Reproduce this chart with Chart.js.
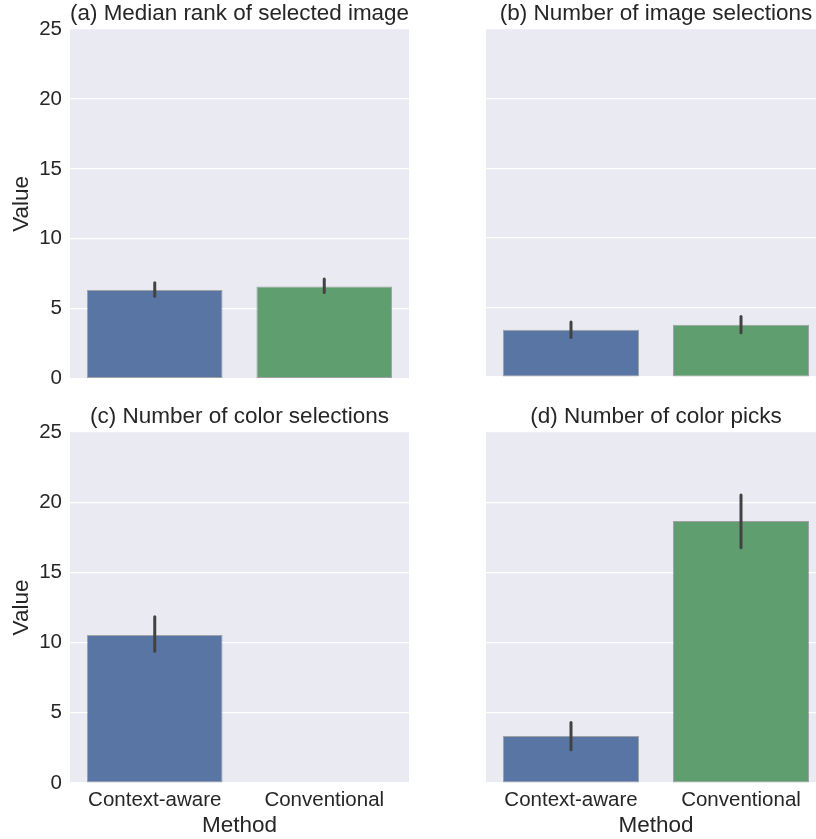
<!DOCTYPE html>
<html>
<head>
<meta charset="utf-8">
<script src="https://cdn.jsdelivr.net/npm/chart.js@4/dist/chart.umd.min.js"></script>
<style>
  body { margin: 0; background: #fff; overflow: hidden; width: 816px; height: 839px; position: relative; }
  canvas { position: absolute; }
</style>
</head>
<body>
<canvas id="pa" width="420" height="399" style="left:0;top:0"></canvas>
<canvas id="pb" width="354" height="391" style="left:476px;top:0"></canvas>
<canvas id="pc" width="420" height="436" style="left:0;top:403px"></canvas>
<canvas id="pd" width="354" height="436" style="left:476px;top:403px"></canvas>
<script>
const methods = ["Context-aware", "Conventional"];
const yTicks = [0, 5, 10, 15, 20, 25];

// (a) median rank of selected image
const medianRank = [6.35, 6.6];
const medianRankLo = [5.9, 6.16];
const medianRankHi = [6.86, 7.13];

// (b) number of image selections
const imageSel = [3.39, 3.75];
const imageSelLo = [2.84, 3.17];
const imageSelHi = [3.96, 4.35];

// (c) number of color selections
const colorSel = [10.55, 0];
const colorSelLo = [9.38, null];
const colorSelHi = [11.84, null];

// (d) number of color picks
const colorPicks = [3.34, 18.66];
const colorPicksLo = [2.36, 16.76];
const colorPicksHi = [4.31, 20.52];

const barColors = ["#5875a4", "#5f9e6e"];
const textColor = "#262626";
const fontFam = "'Liberation Sans', Arial, sans-serif";

const plotBg = {
    id: "plotBg",
    beforeDraw(chart) {
        const { ctx, chartArea: a } = chart;
        ctx.save();
        ctx.fillStyle = "#eaeaf2";
        ctx.fillRect(a.left, a.top, a.width, a.height);
        ctx.restore();
    }
};

const errBars = {
    id: "errBars",
    afterDatasetsDraw(chart, args, opts) {
        const ctx = chart.ctx;
        const x = chart.scales.x, y = chart.scales.y;
        ctx.save();
        ctx.strokeStyle = "#424242";
        ctx.lineWidth = 3;
        ctx.lineCap = "round";
        opts.lo.forEach((lo, i) => {
            const hi = opts.hi[i];
            if (lo == null || hi == null) return;
            const px = x.getPixelForValue(i);
            ctx.beginPath();
            ctx.moveTo(px, y.getPixelForValue(lo));
            ctx.lineTo(px, y.getPixelForValue(hi));
            ctx.stroke();
        });
        ctx.restore();
    }
};

function makePanel(id, title, values, lo, hi, leftCol, bottomRow) {
    const ctx = document.getElementById(id).getContext("2d");
    return new Chart(ctx, {
        type: "bar",
        data: {
            labels: methods,
            datasets: [{
                data: values,
                backgroundColor: barColors,
                borderColor: "rgba(70,70,70,0.45)",
                borderWidth: 1,
                borderSkipped: false,
                barPercentage: 0.8,
                categoryPercentage: 1
            }]
        },
        options: {
            responsive: false,
            animation: false,
            devicePixelRatio: 1,
            layout: {
                padding: { top: 0, left: 0, right: leftCol ? 11 : 4, bottom: bottomRow ? 0 : 14 }
            },
            plugins: {
                legend: { display: false },
                tooltip: { enabled: false },
                title: {
                    display: true,
                    text: title,
                    fullSize: false,
                    color: textColor,
                    font: { family: fontFam, size: 22.5, weight: "normal", lineHeight: 1.2 },
                    padding: { top: 0, bottom: 2 }
                },
                errBars: { lo: lo, hi: hi }
            },
            scales: {
                x: {
                    display: bottomRow,
                    grid: { display: false, drawTicks: false },
                    border: { display: false },
                    ticks: {
                        color: textColor,
                        font: { family: fontFam, size: 20.5 },
                        padding: 5,
                        maxRotation: 0
                    },
                    title: {
                        display: true,
                        text: "Method",
                        color: textColor,
                        font: { family: fontFam, size: 22.5 },
                        padding: { top: 0, bottom: 0 }
                    },
                    afterFit(s) { s.height = bottomRow ? 56 : 0; }
                },
                y: {
                    min: 0,
                    max: 25,
                    afterBuildTicks(s) { s.ticks = yTicks.map(v => ({ value: v })); },
                    grid: { color: "#ffffff", lineWidth: 1.2, drawTicks: false },
                    border: { display: false },
                    ticks: {
                        display: leftCol,
                        color: textColor,
                        font: { family: fontFam, size: 20.5 },
                        padding: 8
                    },
                    title: {
                        display: leftCol,
                        text: "Value",
                        color: textColor,
                        font: { family: fontFam, size: 22.5 },
                        padding: { top: 8, bottom: 0 }
                    },
                    afterFit(s) { s.width = leftCol ? 70 : 10; }
                }
            }
        },
        plugins: [plotBg, errBars]
    });
}

makePanel("pa", "(a) Median rank of selected image", medianRank, medianRankLo, medianRankHi, true, false);
makePanel("pb", "(b) Number of image selections", imageSel, imageSelLo, imageSelHi, false, false);
makePanel("pc", "(c) Number of color selections", colorSel, colorSelLo, colorSelHi, true, true);
makePanel("pd", "(d) Number of color picks", colorPicks, colorPicksLo, colorPicksHi, false, true);
</script>
</body>
</html>
